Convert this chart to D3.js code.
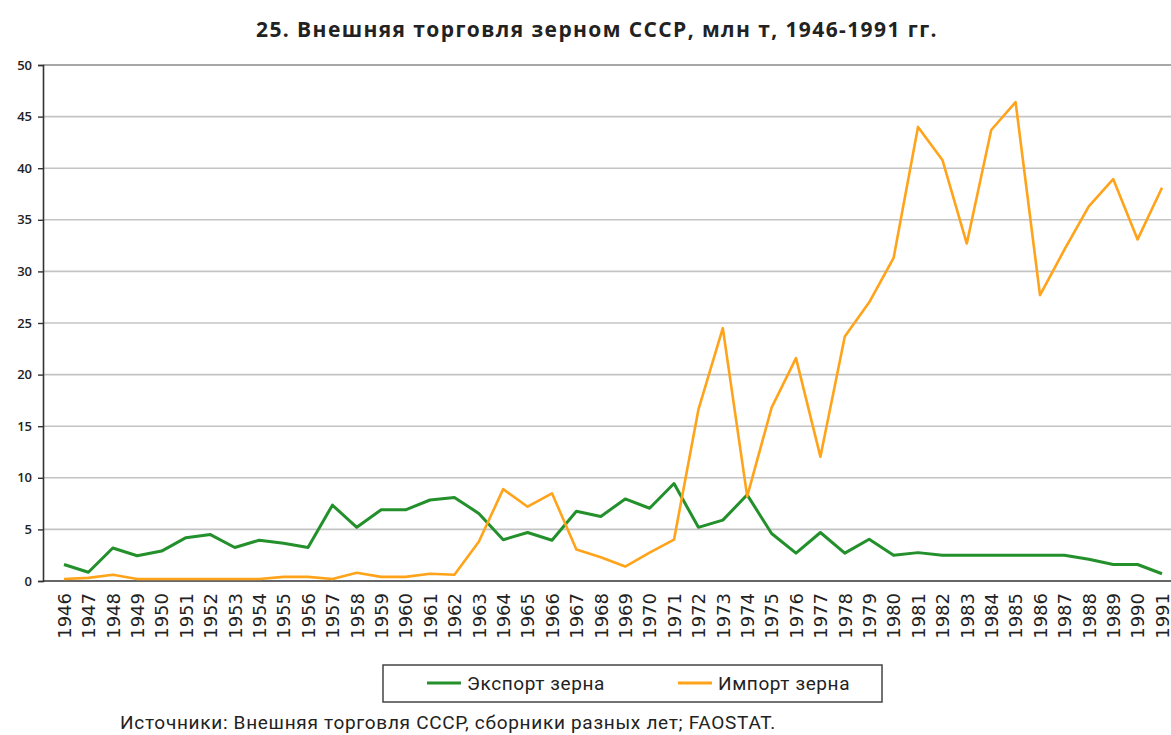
<!DOCTYPE html>
<html>
<head>
<meta charset="utf-8">
<script src="https://cdnjs.cloudflare.com/ajax/libs/d3/7.8.5/d3.min.js"></script>
<style>
  body { margin: 0; background: #fff; }
  svg { display: block; }
</style>
</head>
<body>
<div id="chart"></div>
<script>
var years = [];
for (var y = 1946; y <= 1991; y++) years.push(y);

// млн т
var exportGrain = [1.6, 0.85, 3.2, 2.45, 2.9, 4.2, 4.5, 3.25, 3.95, 3.65, 3.25, 7.35,
                   5.2, 6.9, 6.9, 7.85, 8.1, 6.55, 4.0, 4.7, 3.95, 6.75, 6.25, 7.95,
                   7.05, 9.45, 5.2, 5.9, 8.35, 4.6, 2.7, 4.7, 2.7, 4.05, 2.5, 2.75,
                   2.5, 2.5, 2.5, 2.5, 2.5, 2.5, 2.1, 1.6, 1.6, 0.7];
var importGrain = [0.2, 0.3, 0.6, 0.2, 0.2, 0.2, 0.2, 0.2, 0.2, 0.4, 0.4, 0.2,
                   0.8, 0.4, 0.4, 0.7, 0.6, 3.8, 8.9, 7.2, 8.5, 3.05, 2.3, 1.4,
                   2.75, 4.0, 16.6, 24.5, 8.2, 16.8, 21.6, 12.05, 23.7, 27.0, 31.3, 44.0,
                   40.8, 32.7, 43.7, 46.4, 27.7, 32.1, 36.3, 38.95, 33.1, 38.1];
var yTicks = [0, 5, 10, 15, 20, 25, 30, 35, 40, 45, 50];
var seriesNames = ["Экспорт зерна", "Импорт зерна"];
var seriesColors = ["#23902c", "#ffa31a"];

var title = "25. Внешняя торговля зерном СССР, млн т, 1946-1991 гг.";
var source = "Источники: Внешняя торговля СССР, сборники разных лет; FAOSTAT.";

var width = 1171, height = 735;
var svg = d3.select("#chart").append("svg")
    .attr("width", width)
    .attr("height", height);

var x = d3.scalePoint().domain(years).range([64, 1162]);
var yScale = d3.scaleLinear().domain([0, 50]).range([581, 65]);

svg.append("text")
    .attr("x", 597)
    .attr("y", 37)
    .attr("text-anchor", "middle")
    .style("font-family", "'Open Sans', sans-serif")
    .style("font-weight", "bold")
    .style("font-size", "21px")
    .style("letter-spacing", "1.4px")
    .style("fill", "#222")
    .text(title);

// grid
svg.append("g").selectAll("line")
    .data(yTicks.filter(function(d){ return d > 0; }))
    .enter().append("line")
    .attr("x1", 43).attr("x2", width)
    .attr("y1", function(d){ return yScale(d); })
    .attr("y2", function(d){ return yScale(d); })
    .style("stroke", function(d){ return d == 50 ? "#8a8a8a" : "#c4c4c4"; })
    .style("stroke-width", 1.6);

var yAxis = svg.append("g")
    .attr("transform", "translate(43,0)")
    .call(d3.axisLeft(yScale).tickValues(yTicks).tickSize(5).tickPadding(6));
yAxis.select(".domain").style("stroke", "#333").style("stroke-width", 1.6);
yAxis.selectAll(".tick line").style("stroke", "#333").style("stroke-width", 1.4);
yAxis.selectAll("text")
    .style("font-family", "'Open Sans', sans-serif")
    .style("font-weight", "600")
    .style("font-size", "13px")
    .style("fill", "#222");

var xAxis = svg.append("g")
    .attr("transform", "translate(0,581)")
    .call(d3.axisBottom(x).tickSize(0).tickPadding(0));
xAxis.select(".domain").remove();
xAxis.selectAll("text")
    .attr("transform", "rotate(-90)")
    .attr("x", -12)
    .attr("y", 0)
    .attr("dy", "0.35em")
    .style("text-anchor", "end")
    .style("font-family", "'DejaVu Sans', sans-serif")
    .style("font-size", "18px")
    .style("fill", "#222");

svg.append("line")
    .attr("x1", 43).attr("x2", width)
    .attr("y1", 581).attr("y2", 581)
    .style("stroke", "#333").style("stroke-width", 1.6);

var line = d3.line()
    .x(function(d, i){ return x(years[i]); })
    .y(function(d){ return yScale(d); });

[exportGrain, importGrain].forEach(function(s, k) {
    svg.append("path")
        .datum(s)
        .attr("d", line)
        .style("fill", "none")
        .style("stroke", seriesColors[k])
        .style("stroke-width", k == 0 ? 3 : 2.6)
        .style("stroke-linejoin", "round");
});

// legend
var legend = svg.append("g");
legend.append("rect")
    .attr("x", 383).attr("y", 665)
    .attr("width", 499).attr("height", 37)
    .style("fill", "#fff")
    .style("stroke", "#444")
    .style("stroke-width", 1.5);
var legendX = [427, 678];
seriesNames.forEach(function(name, k) {
    legend.append("line")
        .attr("x1", legendX[k]).attr("x2", legendX[k] + 34)
        .attr("y1", 683).attr("y2", 683)
        .style("stroke", seriesColors[k])
        .style("stroke-width", 3);
    legend.append("text")
        .attr("x", legendX[k] + 40)
        .attr("y", 690)
        .style("font-family", "Roboto, sans-serif")
        .style("font-size", "19px")
        .style("letter-spacing", "0.6px")
        .style("fill", "#222")
        .text(name);
});

svg.append("text")
    .attr("x", 120)
    .attr("y", 729)
    .style("font-family", "Roboto, sans-serif")
    .style("font-size", "19px")
    .style("letter-spacing", "0.7px")
    .style("fill", "#222")
    .text(source);
</script>
</body>
</html>
